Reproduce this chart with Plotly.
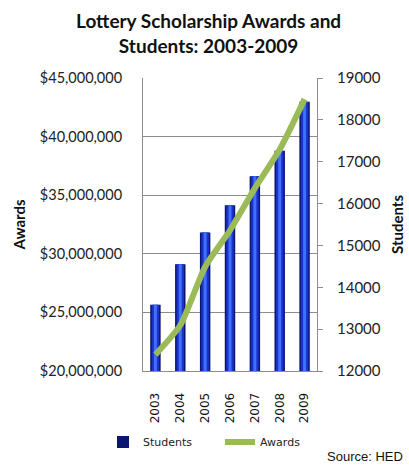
import plotly.graph_objects as go

years = ["2003", "2004", "2005", "2006", "2007", "2008", "2009"]
students = [13580, 14550, 15310, 15960, 16650, 17260, 18430]
awards = [21400000, 23900000, 28900000, 32000000, 35600000, 38900000, 43200000]

left_ticks = [20000000, 25000000, 30000000, 35000000, 40000000, 45000000]
left_labels = ["$20,000,000", "$25,000,000", "$30,000,000", "$35,000,000", "$40,000,000", "$45,000,000"]
right_ticks = [12000, 13000, 14000, 15000, 16000, 17000, 18000, 19000]
right_labels = [str(v) for v in right_ticks]

fig = go.Figure()

# Layered bars give the columns a shaded, cylinder-like look
bar_layers = [
    (0.42, "#0b1670", True),
    (0.30, "#1b33c9", False),
    (0.12, "#3f70ff", False),
]
for width, color, show in bar_layers:
    fig.add_trace(go.Bar(
        x=years, y=students, width=width, name="Students",
        marker=dict(color=color, line=dict(width=0)),
        yaxis="y", showlegend=show, legendgroup="students",
    ))

fig.add_trace(go.Scatter(
    x=years, y=awards, name="Awards", mode="lines",
    line=dict(color="#9bbb59", width=6, shape="spline", smoothing=0.6),
    yaxis="y2",
))

fig.update_layout(
    width=409, height=465,
    margin=dict(l=143, r=92, t=78, b=94, autoexpand=False),
    paper_bgcolor="white", plot_bgcolor="white",
    barmode="overlay",
    font=dict(family="Lato", color="#222222"),
    title=dict(
        text="<b>Lottery Scholarship Awards and<br>Students: 2003-2009</b>",
        x=0.51, xref="container", xanchor="center",
        y=0.94, yref="container", yanchor="middle",
        font=dict(family="Lato", size=19, color="#111111"),
    ),
    xaxis=dict(
        tickangle=-90, tickfont=dict(family="DejaVu Sans", size=12, color="#111111"),
        showline=True, linecolor="#8c8c8c", linewidth=1, mirror=False,
        showgrid=False, ticks="", ticklabelstandoff=16, automargin=False,
    ),
    yaxis=dict(
        side="right", range=[12000, 19000], tickvals=right_ticks, ticktext=right_labels,
        tickfont=dict(size=15, color="#222222"),
        showgrid=False, showline=True, linecolor="#8c8c8c", linewidth=1,
        ticks="outside", ticklen=5, tickcolor="#8c8c8c", ticklabelstandoff=11,
        title=dict(text="<b>Students</b>", font=dict(size=15, color="#111111"), standoff=12),
        zeroline=False, automargin=False,
    ),
    yaxis2=dict(
        overlaying="y", side="left", range=[20000000, 45000000],
        tickvals=left_ticks, ticktext=left_labels,
        tickfont=dict(size=14.5, color="#222222"),
        showgrid=True, gridcolor="#8c8c8c", gridwidth=1,
        showline=True, linecolor="#8c8c8c", linewidth=1, ticks="",
        ticklabelstandoff=17,
        title=dict(text="<b>Awards</b>", font=dict(size=15, color="#111111"), standoff=10),
        zeroline=False, automargin=False,
    ),
    legend=dict(
        orientation="h", x=(103 - 143) / 174, xanchor="left",
        y=(371 - 442) / 293, yanchor="middle",
        font=dict(family="DejaVu Sans", size=11, color="#222222"),
        bgcolor="rgba(0,0,0,0)", entrywidth=72, entrywidthmode="pixels",
    ),
    annotations=[dict(
        text="Source: HED", x=(405 - 143) / 174, xref="paper",
        y=(371 - 456) / 293, yref="paper",
        xanchor="right", yanchor="middle", showarrow=False,
        font=dict(family="Liberation Sans", size=13, color="#111111"),
    )],
)

fig.write_html("out.html")
